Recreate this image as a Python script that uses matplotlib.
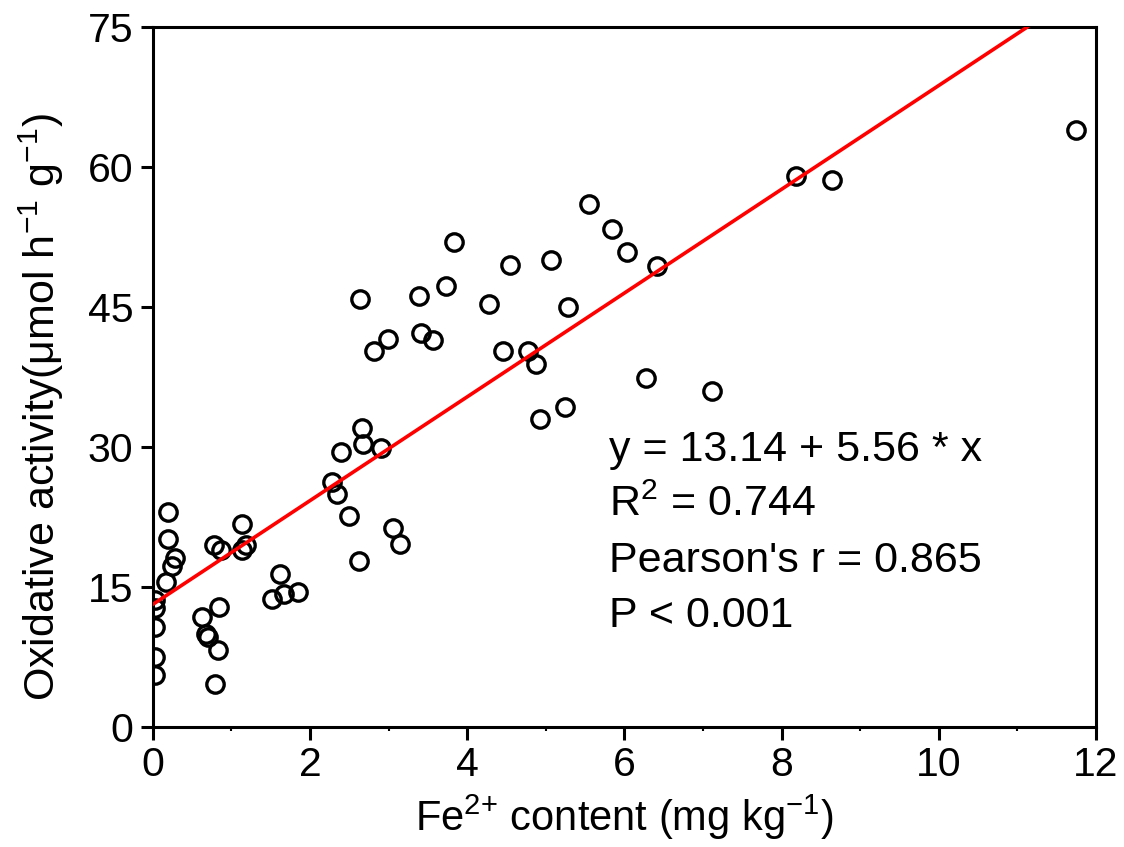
import numpy as np
import matplotlib
matplotlib.use('Agg')
import matplotlib.pyplot as plt

plt.rcParams['font.family'] = ['Liberation Sans', 'DejaVu Sans']
plt.rcParams['mathtext.fontset'] = 'custom'
plt.rcParams['mathtext.rm'] = 'Liberation Sans'
plt.rcParams['mathtext.it'] = 'Liberation Sans:italic'
plt.rcParams['mathtext.default'] = 'regular'

# Fe2+ content (mg/kg) and oxidative activity
fe = [0.03, 0.03, 0.03, 0.03, 0.03, 0.19, 0.19, 0.28, 0.24, 0.17,
      0.62, 0.84, 0.68, 0.70, 0.83, 0.79, 0.78, 0.87, 1.13, 1.13,
      1.18, 1.62, 1.52, 1.67, 1.85,
      2.64, 3.39, 3.73, 2.99, 2.81, 3.41, 3.56, 2.66, 2.68, 2.90,
      2.40, 2.28, 2.34, 2.50, 3.06, 3.14, 2.62,
      5.55, 5.84, 6.03, 6.41, 3.83, 4.54, 5.06, 4.28, 5.28, 4.45,
      4.77, 4.87, 6.28, 7.12, 5.24, 4.93,
      8.19, 8.64, 11.75]
activity = [13.6, 12.75, 10.7, 7.5, 5.6, 23.0, 20.1, 18.1, 17.25, 15.5,
            11.8, 12.85, 10.0, 9.6, 8.25, 4.6, 19.5, 19.0, 21.75, 19.0,
            19.5, 16.4, 13.7, 14.25, 14.5,
            45.9, 46.2, 47.25, 41.6, 40.3, 42.25, 41.5, 32.0, 30.3, 29.9,
            29.5, 26.2, 24.96, 22.6, 21.3, 19.6, 17.8,
            56.0, 53.4, 50.9, 49.4, 52.0, 49.5, 50.0, 45.3, 45.0, 40.3,
            40.3, 38.9, 37.35, 36.0, 34.3, 33.0,
            59.0, 58.6, 64.0]

intercept = 13.14
slope = 5.56
stats = ["y = 13.14 + 5.56 * x", "R$^2$ = 0.744", "Pearson's r = 0.865", "P < 0.001"]

fig = plt.figure(figsize=(11.24, 8.47), dpi=100)
ax = fig.add_axes([0.136, 0.1417, 0.839, 0.8263])

ax.plot(fe, activity, 'o', mfc='none', mec='black', ms=12.5, mew=2.4, zorder=2)

x_end = (75 - intercept) / slope
fx = np.array([0, x_end])
ax.plot(fx, intercept + slope * fx, color='red', lw=2.6, zorder=3)

ax.set_xlim(0, 12)
ax.set_ylim(0, 75)
ax.set_xticks(range(0, 13, 2))
ax.set_xticks(range(1, 12, 2), minor=True)
ax.set_yticks(range(0, 76, 15))

for sp in ax.spines.values():
    sp.set_linewidth(2.2)
ax.tick_params(which='major', direction='out', length=9, width=2.2, labelsize=29.5, pad=5)
ax.tick_params(which='minor', direction='out', length=3, width=1.5)

ax.set_xlabel(r"Fe$^{2{+}}$ content (mg kg$^{-1}$)", fontsize=30, labelpad=6)
ax.set_ylabel("Oxidative activity(μmol h$^{-1}$ g$^{-1}$)", fontsize=31)
ax.yaxis.set_label_coords(-0.092, 0.457)

y0 = 29.7
for i, s in enumerate(stats):
    ax.text(5.8, y0 - i * 5.93, s, fontsize=31, va='center', ha='left')

fig.savefig("out.png", dpi=100)
